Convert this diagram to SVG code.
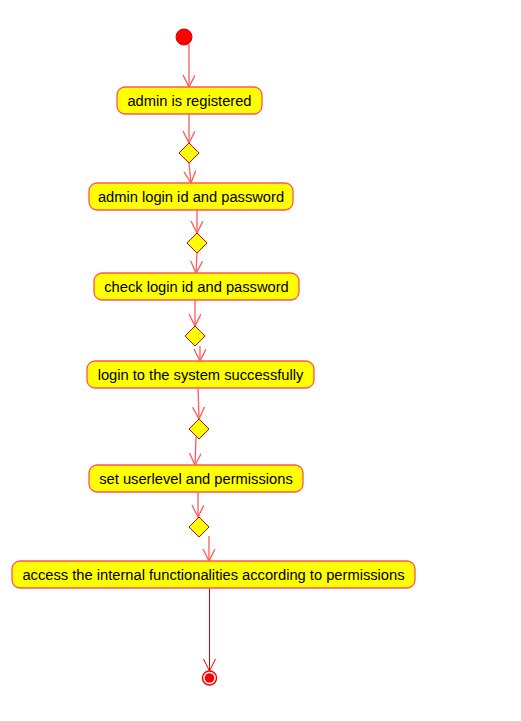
<svg xmlns="http://www.w3.org/2000/svg" width="521" height="721" viewBox="0 0 521 721">
<style>
.node rect{fill:#ffff00;stroke:#ff5555;stroke-width:1.3}
.node text{font-family:"Liberation Sans",Arial,sans-serif;font-size:14.7px;fill:#000;text-anchor:middle}
.dec{fill:#ffff00;stroke:#e00000;stroke-width:1}
.c{fill:none;stroke:#ff5a5a;stroke-width:1.3;marker-end:url(#ah)}
.c2{fill:none;stroke:#e00000;stroke-width:1;marker-end:url(#ah2)}
</style>
<defs>
<marker id="ah" markerUnits="userSpaceOnUse" markerWidth="14" markerHeight="14" refX="12" refY="6" orient="auto">
<path d="M0,0 L12,6 L0,12" fill="none" stroke="#ff5a5a" stroke-width="1.3"/>
</marker>
<marker id="ah2" markerUnits="userSpaceOnUse" markerWidth="14" markerHeight="14" refX="12" refY="6" orient="auto">
<path d="M0,0 L12,6 L0,12" fill="none" stroke="#e00000" stroke-width="1"/>
</marker>
</defs>
<g id="connectors">
<path class="c" d="M189,44 L189,87"/>
<path class="c" d="M189,114 L189,143"/>
<path class="c" d="M189,163 L191,183"/>
<path class="c" d="M197,210 L197,233"/>
<path class="c" d="M197,253 L196,273"/>
<path class="c" d="M195,300 L195,326"/>
<path class="c" d="M200,346 L200,361"/>
<path class="c" d="M198,388 L199,419"/>
<path class="c" d="M196,437 L195,465"/>
<path class="c" d="M198,492 L198,517"/>
<path class="c" d="M209,536 L209,561"/>
<path class="c2" d="M209.5,588 L209.5,671"/>
</g>
<g id="start"><circle cx="184" cy="37" r="8" fill="#ff0000" stroke="#e00000" stroke-width="1"/></g>
<g id="n1" class="node"><rect x="117" y="87" width="145" height="27" rx="8"/><text x="189.5" y="105.5">admin is registered</text></g>
<g id="d1"><polygon class="dec" points="189,143 199,153 189,163 179,153"/></g>
<g id="n2" class="node"><rect x="89" y="183" width="204" height="27" rx="8"/><text x="191" y="201.5">admin login id and password</text></g>
<g id="d2"><polygon class="dec" points="197,233 207,243 197,253 187,243"/></g>
<g id="n3" class="node"><rect x="94" y="273" width="205" height="27" rx="8"/><text x="196.5" y="291.5">check login id and password</text></g>
<g id="d3"><polygon class="dec" points="195,326 205,336 195,346 185,336"/></g>
<g id="n4" class="node"><rect x="87" y="361" width="227" height="27" rx="8"/><text x="200.5" y="379.5">login to the system successfully</text></g>
<g id="d4"><polygon class="dec" points="199,419 209,429 199,439 189,429"/></g>
<g id="n5" class="node"><rect x="89" y="465" width="214" height="27" rx="8"/><text x="196" y="483.5">set userlevel and permissions</text></g>
<g id="d5"><polygon class="dec" points="199,517 209,527 199,537 189,527"/></g>
<g id="n6" class="node"><rect x="12" y="561" width="403" height="27" rx="8"/><text x="213.5" y="579.5">access the internal functionalities according to permissions</text></g>
<g id="end"><circle cx="209.5" cy="678" r="7" fill="#fff" stroke="#ff0000" stroke-width="1.5"/><circle cx="209.5" cy="678" r="4.8" fill="#ff0000"/></g>
</svg>
